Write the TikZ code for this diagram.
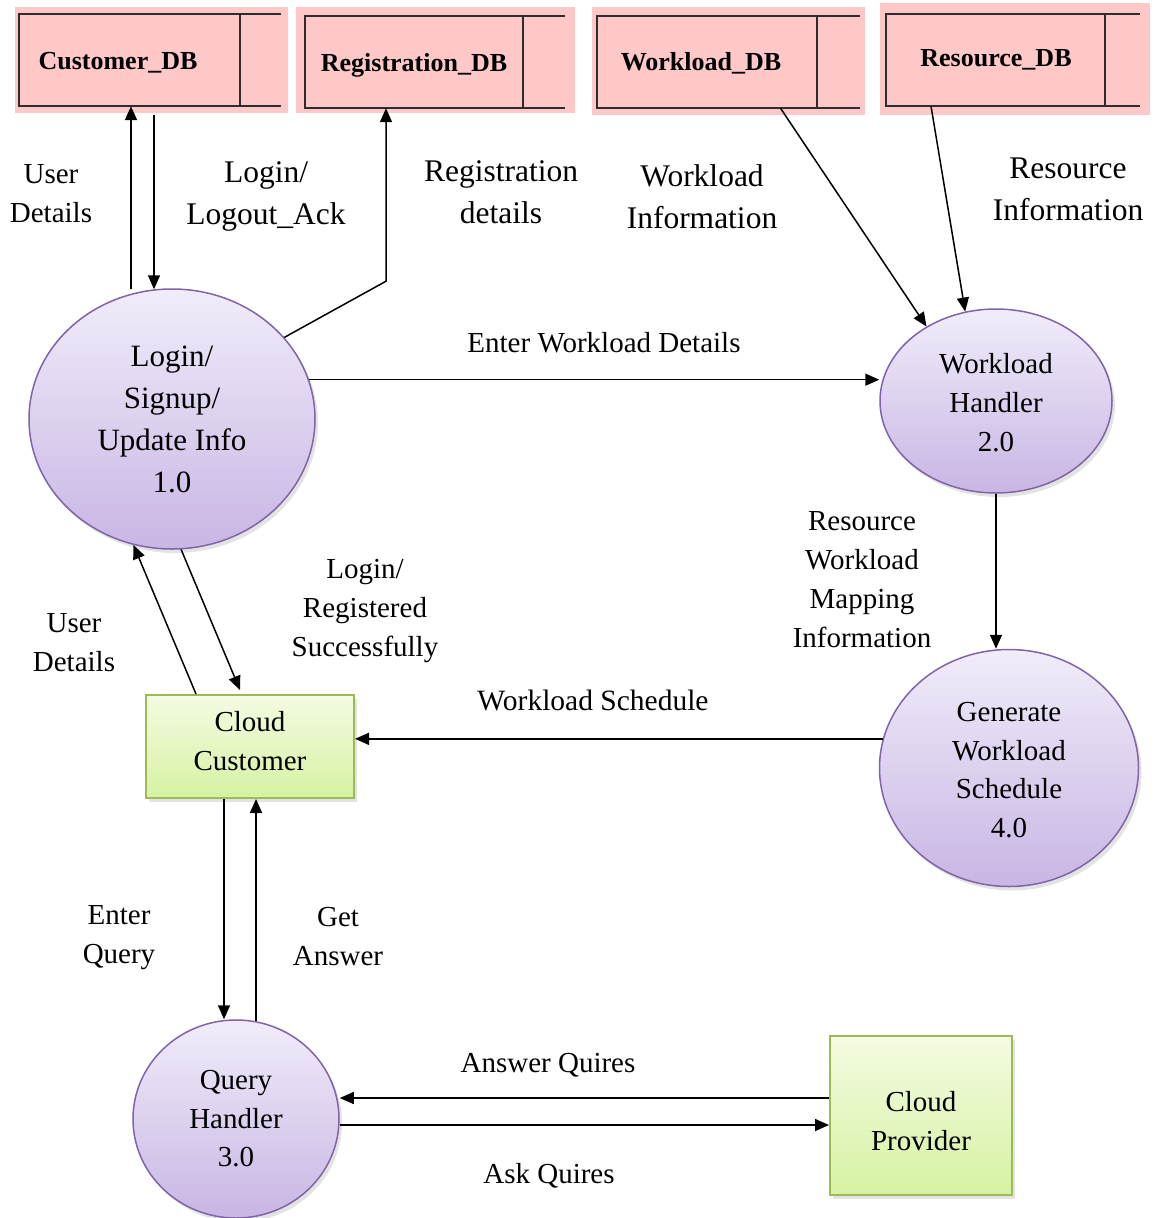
\documentclass[tikz,border=0pt]{standalone}
\usepackage{fontspec}
\setmainfont{Liberation Serif}
\usetikzlibrary{shapes.geometric,arrows.meta,calc,shadows}
\definecolor{storefill}{RGB}{255,200,200}
\definecolor{storeline}{RGB}{45,45,45}
\definecolor{proctop}{RGB}{241,236,250}
\definecolor{procbot}{RGB}{200,182,228}
\definecolor{procline}{RGB}{128,100,168}
\definecolor{exttop}{RGB}{244,251,226}
\definecolor{extbot}{RGB}{214,242,162}
\definecolor{extline}{RGB}{155,187,89}
\begin{document}
\begin{tikzpicture}[x=1pt,y=-1pt,
  softshadow/.style={drop shadow={opacity=0.22, shadow xshift=3pt, shadow yshift=-4pt}},
  proc/.style={ellipse, draw=procline, line width=1.5pt, top color=proctop,
    bottom color=procbot, inner sep=0pt, align=center,
    font=\fontsize{29}{38.5}\selectfont, softshadow},
  ext/.style={rectangle, draw=extline, line width=2pt, top color=exttop,
    bottom color=extbot, inner sep=0pt, align=center,
    font=\fontsize{29}{39}\selectfont, softshadow},
  store/.style={rectangle, inner sep=0pt, draw=none},
  storeedge/.style={draw=storeline, line width=2pt},
  storetext/.style={font=\fontsize{26}{30}\bfseries\selectfont, inner sep=0pt},
  lbl/.style={align=center, inner sep=0pt, font=\fontsize{29}{39}\selectfont},
  biglbl/.style={lbl, font=\fontsize{31.5}{42}\selectfont},
  flow/.style={-{Triangle[length=14pt,width=12pt]}, line width=1.5pt}
]
\useasboundingbox (0,0) rectangle (1157,1218);

% data store backgrounds
\fill[storefill] (15,7) rectangle (288,113);
\fill[storefill] (296,7) rectangle (575,113);
\fill[storefill] (592,7) rectangle (865,115);
\fill[storefill] (880,3) rectangle (1150,115);

% data stores (open-ended rectangles with a divider)
\node[store, minimum width=262pt, minimum height=92pt] (cdb) at (150,60) {};
\node[store, minimum width=260pt, minimum height=92pt] (rdb) at (435,62) {};
\node[store, minimum width=263pt, minimum height=92pt] (wdb) at (728.5,62) {};
\node[store, minimum width=254pt, minimum height=92pt] (resdb) at (1013,60) {};
\foreach \s/\d in {cdb/41, rdb/42, wdb/43, resdb/35}{
  \draw[storeedge] (\s.north east) -- (\s.north west) -- (\s.south west) -- (\s.south east);
  \draw[storeedge] ($(\s.north east)+(-\d,0)$) -- ($(\s.south east)+(-\d,0)$);
}
\node[storetext] (cdbt) at (118,63) {Customer\_DB};
\node[storetext] (rdbt) at (414,65) {Registration\_DB};
\node[storetext] (wdbt) at (701,63) {Workload\_DB};
\node[storetext] (resdbt) at (996,60) {Resource\_DB};

% processes
\node[proc, minimum width=286pt, minimum height=260pt, font=\fontsize{31}{42}\selectfont] (p1) at (172,419) {Login/\\Signup/\\Update Info\\1.0};
\node[proc, minimum width=232pt, minimum height=184pt] (p2) at (996,401) {};
\node[lbl] (p2t) at ($(p2.center)+(0,2)$) {Workload\\Handler\\2.0};
\node[proc, minimum width=206pt, minimum height=198pt] (p3) at (236,1119) {Query\\Handler\\3.0};
\node[proc, minimum width=259pt, minimum height=237pt] (p4) at (1009,768) {};
\node[lbl, font=\fontsize{29}{38.5}\selectfont] (p4t) at ($(p4.center)+(0,2)$) {Generate\\Workload\\Schedule\\4.0};

% external entities
\node[ext, minimum width=208pt, minimum height=103pt] (cc) at (250,746.5) {};
\node[lbl] (cct) at ($(cc.center)+(0,-5)$) {Cloud\\Customer};
\node[ext, minimum width=182pt, minimum height=159pt] (cp) at (921,1115.5) {};
\node[lbl] (cpt) at ($(cp.center)+(0,6)$) {Cloud\\Provider};

% flows
\draw[flow] ($(p1.north)+(-41,1)$) -- ($(cdb.south)+(-19,0)$);
\draw[flow] ($(cdb.south)+(4,9)$) -- ($(p1.north)+(-18,1)$);
\draw[flow] (p1.36) -- ($(rdb.south)+(-49,173)$) -- ($(rdb.south)+(-49,0)$);
\draw[flow] ($(wdb.south)+(52,0)$) -- (p2.133);
\draw[flow] ($(resdb.south)+(-82,0)$) -- (p2.109);
\coordinate (ewd) at (p1.16);
\draw[flow] (ewd) -- (ewd -| p2.west);
\draw[flow] (p2.south) -- (p2.south |- p4.north);
\coordinate (ws) at (p4.167);
\draw[flow] (ws) -- (ws -| cc.east);
\draw[flow] ($(cc.north)+(-54,0)$) -- (p1.253);
\draw[flow] (p1.274) -- ($(cc.north)+(-10,-4)$);
\draw[flow] ($(cc.south)+(-26,0)$) -- ($(p3.north)+(-12,0)$);
\draw[flow] ($(p3.north)+(20,2)$) -- ($(cc.south)+(6,0)$);
\coordinate (aq) at ($(cp.west)+(0,-17.5)$);
\draw[flow] (aq) -- (aq -| p3.east);
\coordinate (ak) at ($(cp.west)+(0,9.5)$);
\draw[flow] (ak -| p3.east) -- (ak);

% flow labels
\node[lbl] (l1) at (51,194) {User\\Details};
\node[biglbl] (l2) at (266,196) {Login/\\Logout\_Ack};
\node[biglbl] (l3) at (501,192) {Registration\\details};
\node[biglbl] (l4) at (702,197) {Workload\\Information};
\node[biglbl] (l5) at (1068,189) {Resource\\Information};
\node[lbl] (l6) at (604,343) {Enter Workload Details};
\node[lbl] (l7) at (862,580) {Resource\\Workload\\Mapping\\Information};
\node[lbl] (l8) at (365,611) {Login/\\Registered\\Successfully};
\node[lbl] (l9) at (74,643) {User\\Details};
\node[lbl, font=\fontsize{29.5}{39}\selectfont] (l10) at (593,700) {Workload Schedule};
\node[lbl] (l11) at (119,938) {Enter\\Query};
\node[lbl] (l12) at (338,937) {Get\\Answer};
\node[lbl] (l13) at (548,1065) {Answer Quires};
\node[lbl] (l14) at (549,1176) {Ask Quires};
\end{tikzpicture}
\end{document}
